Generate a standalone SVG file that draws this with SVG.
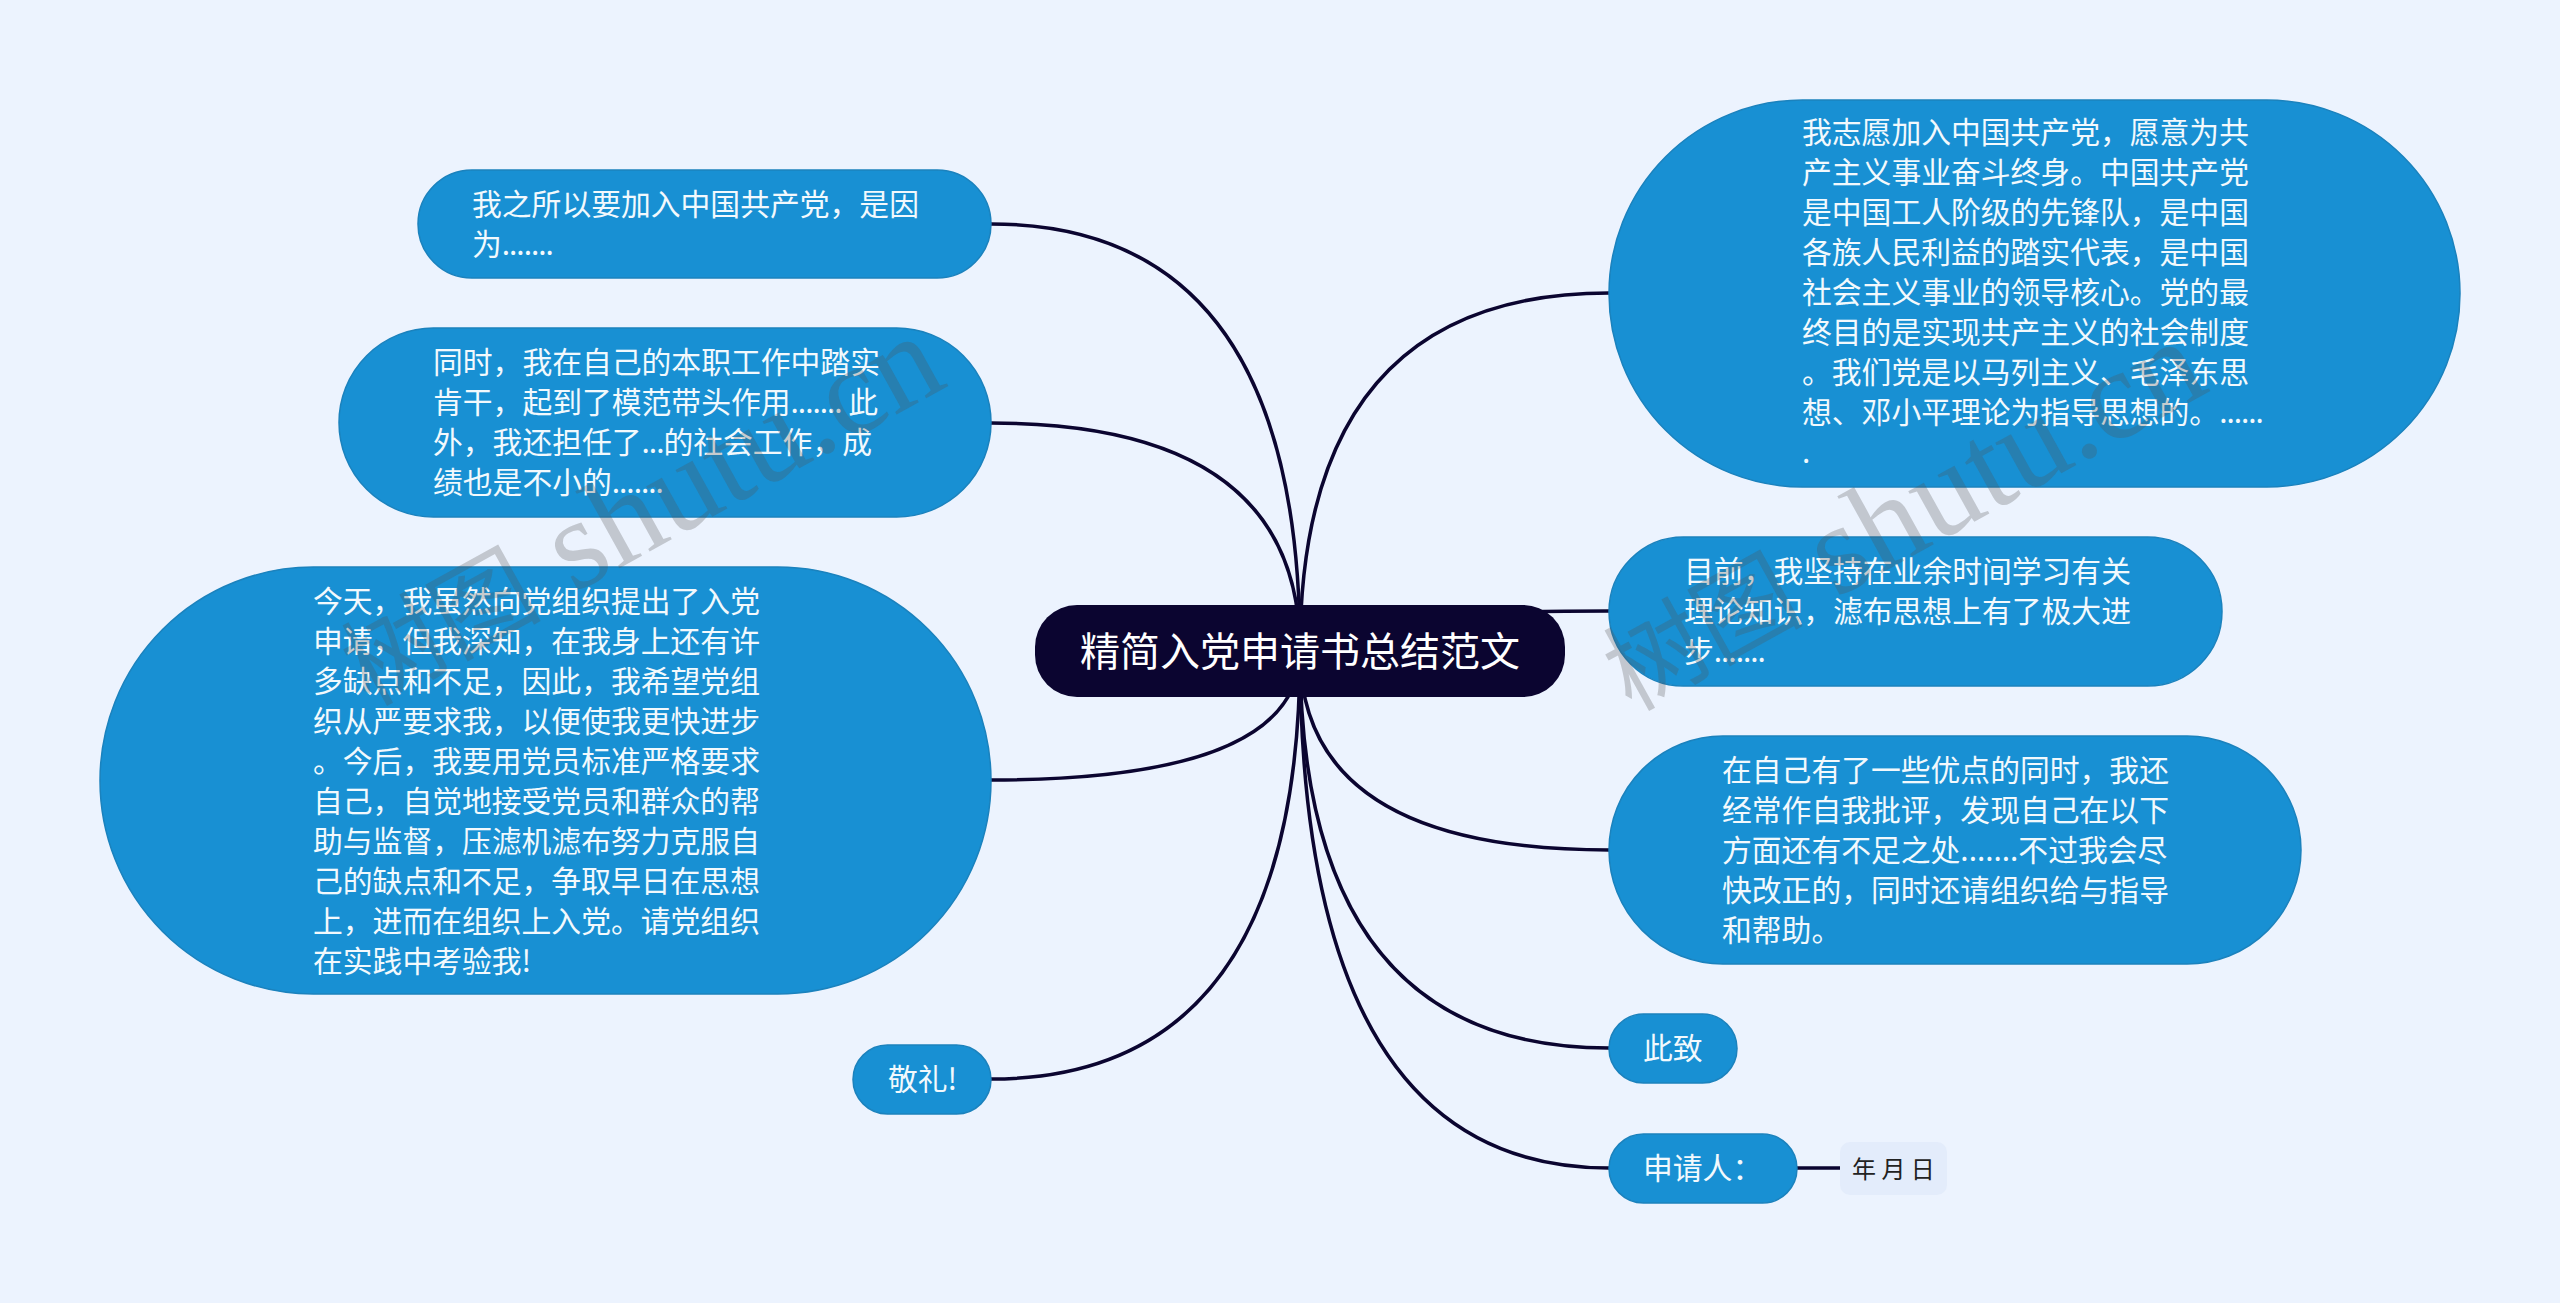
<svg xmlns="http://www.w3.org/2000/svg" width="2560" height="1303" viewBox="0 0 2560 1303">
<style>
text{font-family:"Noto Sans CJK SC","Liberation Sans",sans-serif}
.n{fill:#1890d3;stroke:#1b82bd;stroke-width:1.5}
.t{fill:#f2f9fd;font-size:29.8px}
.d{letter-spacing:-1px}
.c{fill:none;stroke:#0b0530;stroke-width:3.5}
.w{fill:#505050;fill-opacity:.27;font-size:100px}
.l{font-size:128px;font-family:"Liberation Serif",serif}
</style>
<rect width="2560" height="1303" fill="#ecf3fe"/>
<g id="connectors">
<path class="c" d="M1300 651Q1300 224 991 224"/>
<path class="c" d="M1300 651Q1300 423 991 423"/>
<path class="c" d="M1300 651Q1300 780 991 780"/>
<path class="c" d="M1300 651Q1300 1079 991 1079"/>
<path class="c" d="M1300 651Q1300 293 1609 293"/>
<path class="c" d="M1300 651Q1300 611 1609 611"/>
<path class="c" d="M1300 651Q1300 850 1609 850"/>
<path class="c" d="M1300 651Q1300 1048 1609 1048"/>
<path class="c" d="M1300 651Q1300 1168 1609 1168"/>
<path class="c" d="M1797 1168H1840"/>
</g>
<g id="root"><rect x="1035" y="605" width="530" height="92" rx="42" fill="#0b0530"/>
<text x="1080" y="666" style="font-size:40px" fill="#fff">精简入党申请书总结范文</text></g>
<g id="n1"><rect class="n" x="418" y="170" width="573" height="108" rx="54"/>
<text class="t"><tspan x="472" y="215">我之所以要加入中国共产党，是因</tspan><tspan x="472" y="255">为<tspan class="d">.......</tspan></tspan></text></g>
<g id="n2"><rect class="n" x="339" y="328" width="652" height="189" rx="94.5"/>
<text class="t"><tspan x="433" y="373">同时，我在自己的本职工作中踏实</tspan><tspan x="433" y="413">肯干，起到了模范带头作用<tspan class="d">.......</tspan> 此</tspan><tspan x="433" y="453">外，我还担任了<tspan class="d">...</tspan>的社会工作，成</tspan><tspan x="433" y="493">绩也是不小的<tspan class="d">.......</tspan></tspan></text></g>
<g id="n3"><rect class="n" x="100" y="567" width="891" height="427" rx="213.5"/>
<text class="t"><tspan x="313" y="612">今天，我虽然向党组织提出了入党</tspan><tspan x="313" y="652">申请，但我深知，在我身上还有许</tspan><tspan x="313" y="692">多缺点和不足，因此，我希望党组</tspan><tspan x="313" y="732">织从严要求我，以便使我更快进步</tspan><tspan x="313" y="772">。今后，我要用党员标准严格要求</tspan><tspan x="313" y="812">自己，自觉地接受党员和群众的帮</tspan><tspan x="313" y="852">助与监督，压滤机滤布努力克服自</tspan><tspan x="313" y="892">己的缺点和不足，争取早日在思想</tspan><tspan x="313" y="932">上，进而在组织上入党。请党组织</tspan><tspan x="313" y="972">在实践中考验我!</tspan></text></g>
<g id="n4"><rect class="n" x="853" y="1045" width="138" height="69" rx="34.5"/>
<text class="t" x="888" y="1090">敬礼!</text></g>
<g id="n5"><rect class="n" x="1609" y="100" width="851" height="387" rx="193.5"/>
<text class="t"><tspan x="1802" y="143">我志愿加入中国共产党，愿意为共</tspan><tspan x="1802" y="183">产主义事业奋斗终身。中国共产党</tspan><tspan x="1802" y="223">是中国工人阶级的先锋队，是中国</tspan><tspan x="1802" y="263">各族人民利益的踏实代表，是中国</tspan><tspan x="1802" y="303">社会主义事业的领导核心。党的最</tspan><tspan x="1802" y="343">终目的是实现共产主义的社会制度</tspan><tspan x="1802" y="383">。我们党是以马列主义、毛泽东思</tspan><tspan x="1802" y="423">想、邓小平理论为指导思想的。<tspan class="d">......</tspan></tspan><tspan x="1802" y="463">.</tspan></text></g>
<g id="n6"><rect class="n" x="1609" y="537" width="613" height="149" rx="74.5"/>
<text class="t"><tspan x="1684" y="582">目前，我坚持在业余时间学习有关</tspan><tspan x="1684" y="622">理论知识，滤布思想上有了极大进</tspan><tspan x="1684" y="662">步<tspan class="d">.......</tspan></tspan></text></g>
<g id="n7"><rect class="n" x="1609" y="736" width="692" height="228" rx="114"/>
<text class="t"><tspan x="1722" y="781">在自己有了一些优点的同时，我还</tspan><tspan x="1722" y="821">经常作自我批评，发现自己在以下</tspan><tspan x="1722" y="861">方面还有不足之处.......不过我会尽</tspan><tspan x="1722" y="901">快改正的，同时还请组织给与指导</tspan><tspan x="1722" y="941">和帮助。</tspan></text></g>
<g id="n8"><rect class="n" x="1609" y="1014" width="128" height="69" rx="34.5"/>
<text class="t" x="1643" y="1059">此致</text></g>
<g id="n9"><rect class="n" x="1609" y="1134" width="188" height="69" rx="34.5"/>
<text class="t" x="1643" y="1179">申请人：</text></g>
<g id="n10"><rect x="1840" y="1142" width="107" height="53" rx="10" fill="#e3ecfb"/>
<text x="1852" y="1178" fill="#222" style="font-size:24px">年 月 日</text></g>
<g id="watermark">
<text class="w" transform="translate(369 707) rotate(-29)">树图<tspan class="l" dx="34">shutu.cn</tspan></text>
<text class="w" transform="translate(1631 712) rotate(-29)">树图<tspan class="l" dx="34">shutu.cn</tspan></text>
</g>
</svg>
